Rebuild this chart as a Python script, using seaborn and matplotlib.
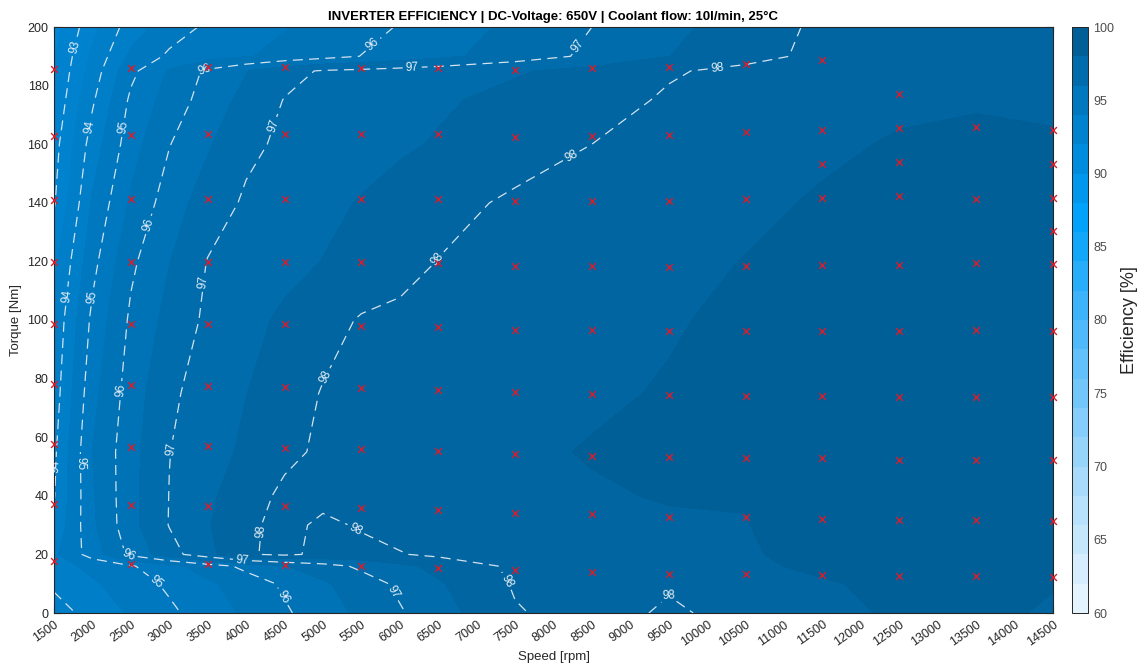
import numpy as np
import matplotlib
matplotlib.use("Agg")
import matplotlib.pyplot as plt
import seaborn as sns
from matplotlib.colors import LinearSegmentedColormap, ListedColormap, Normalize
from matplotlib.cm import ScalarMappable

# ---------------------------------------------------------------------------
# Efficiency map (interpolated grid, %)
# ---------------------------------------------------------------------------
speed_grid = [1500, 2000, 2500, 3000, 3500, 4000, 4500, 5000, 5500, 6000,
              6500, 7500, 8500, 9500, 10500, 11500, 12500, 13500, 14500]
torque_grid = [0, 10, 16, 20, 30, 40, 55, 75, 100, 120, 140, 160, 175, 185, 190, 200]

efficiency = [
    # T = 0
    [93.75, 94.20, 94.55, 94.90, 95.24, 95.58, 95.93, 96.27, 96.60, 96.95, 97.29, 97.96, 98.20, 97.93, 98.15, 98.38, 98.56, 98.60, 98.45],
    # T = 10
    [94.10, 94.43, 94.76, 95.09, 95.41, 95.74, 96.08, 96.42, 96.76, 97.10, 97.44, 98.05, 98.22, 98.05, 98.28, 98.45, 98.62, 98.66, 98.52],
    # T = 16
    [94.30, 94.62, 94.95, 95.33, 95.75, 96.13, 96.46, 96.79, 97.10, 97.37, 97.64, 98.10, 98.25, 98.20, 98.40, 98.60, 98.70, 98.72, 98.65],
    # T = 20
    [94.40, 95.23, 96.13, 96.80, 97.35, 97.95, 98.10, 97.88, 97.85, 97.97, 98.10, 98.20, 98.30, 98.30, 98.45, 98.65, 98.80, 98.80, 98.75],
    # T = 30
    [94.10, 95.40, 96.34, 97.02, 97.46, 97.90, 98.15, 97.90, 98.05, 98.20, 98.30, 98.35, 98.45, 98.40, 98.48, 98.80, 98.90, 98.90, 98.85],
    # T = 40
    [93.97, 95.44, 96.35, 97.01, 97.40, 97.79, 98.10, 98.15, 98.20, 98.25, 98.30, 98.35, 98.42, 98.55, 98.53, 98.80, 98.90, 98.92, 98.90],
    # T = 55
    [93.90, 95.50, 96.33, 96.99, 97.29, 97.59, 97.89, 98.08, 98.15, 98.20, 98.25, 98.35, 98.55, 98.60, 98.75, 98.85, 98.92, 98.95, 98.90],
    # T = 75
    [93.75, 95.34, 96.24, 96.90, 97.23, 97.49, 97.76, 98.03, 98.12, 98.18, 98.22, 98.30, 98.38, 98.56, 98.78, 98.90, 98.95, 98.97, 98.95],
    # T = 100
    [93.60, 95.12, 96.09, 96.66, 97.10, 97.34, 97.59, 97.83, 98.04, 98.10, 98.15, 98.22, 98.32, 98.43, 98.66, 98.85, 98.92, 98.95, 98.95],
    # T = 120
    [93.35, 94.84, 95.90, 96.48, 97.02, 97.17, 97.34, 97.51, 97.67, 97.84, 98.01, 98.12, 98.22, 98.32, 98.52, 98.80, 98.90, 98.92, 98.90],
    # T = 140
    [92.95, 94.55, 95.57, 96.25, 96.74, 97.07, 97.22, 97.38, 97.53, 97.68, 97.84, 98.08, 98.17, 98.26, 98.36, 98.57, 98.82, 98.86, 98.84],
    # T = 160
    [92.80, 94.23, 95.28, 95.98, 96.44, 96.89, 97.09, 97.20, 97.31, 97.43, 97.54, 97.77, 98.00, 98.15, 98.27, 98.38, 98.56, 98.68, 98.60],
    # T = 175
    [92.60, 93.93, 95.10, 95.71, 96.22, 96.65, 97.02, 97.12, 97.22, 97.33, 97.43, 97.64, 97.84, 98.05, 98.20, 98.30, 98.38, 98.42, 98.35],
    # T = 185
    [92.50, 93.72, 94.87, 95.55, 96.10, 96.47, 96.83, 97.05, 97.12, 97.20, 97.28, 97.45, 97.65, 97.96, 98.10, 98.20, 98.28, 98.32, 98.28],
    # T = 190
    [92.45, 93.60, 94.60, 95.09, 95.28, 95.46, 95.64, 95.82, 96.01, 96.19, 96.37, 96.74, 97.10, 97.49, 97.87, 98.10, 98.20, 98.25, 98.22],
    # T = 200
    [92.30, 93.35, 94.26, 94.74, 95.09, 95.28, 95.47, 95.66, 95.84, 96.03, 96.23, 96.61, 97.00, 97.37, 97.74, 98.10, 98.20, 98.25, 98.22],
]

# ---------------------------------------------------------------------------
# Measured operating points (speed in rpm, torque in Nm)
# ---------------------------------------------------------------------------
torque_at_1500 = [185.7, 162.8, 141.0, 119.8, 98.6, 78.2, 57.7, 37.2, 17.7]
torque_at_2500 = [186.0, 163.1, 141.3, 119.8, 98.6, 77.8, 56.7, 36.9, 16.7]
torque_at_3500 = [186.3, 163.5, 141.3, 119.8, 98.6, 77.5, 57.0, 36.5, 16.7]
torque_at_4500 = [186.3, 163.5, 141.3, 119.8, 98.6, 77.1, 56.3, 36.5, 16.4]
torque_at_5500 = [186.0, 163.5, 141.3, 119.8, 98.0, 76.8, 56.0, 35.8, 16.0]
torque_at_6500 = [186.0, 163.5, 141.3, 119.5, 97.6, 76.1, 55.3, 35.2, 15.4]
torque_at_7500 = [185.3, 162.5, 140.6, 118.4, 96.6, 75.4, 54.3, 34.1, 14.7]
torque_at_8500 = [186.0, 162.8, 140.6, 118.4, 96.6, 74.7, 53.6, 33.8, 14.0]
torque_at_9500 = [186.3, 163.1, 140.6, 118.1, 96.2, 74.4, 53.3, 32.8, 13.3]
torque_at_10500 = [187.4, 164.2, 141.3, 118.4, 96.2, 74.1, 52.9, 32.8, 13.3]
torque_at_11500 = [188.7, 164.8, 153.2, 141.6, 118.8, 96.2, 74.1, 52.9, 32.1, 13.0]
torque_at_12500 = [177.1, 165.5, 153.9, 142.3, 118.8, 96.2, 73.7, 52.2, 31.7, 12.6]
torque_at_13500 = [165.9, 141.3, 119.5, 96.6, 73.7, 52.2, 31.7, 12.6]
torque_at_14500 = [164.8, 153.2, 141.6, 130.4, 119.1, 96.2, 73.7, 52.2, 31.4, 12.3]

measured_columns = {
    1500: torque_at_1500, 2500: torque_at_2500, 3500: torque_at_3500,
    4500: torque_at_4500, 5500: torque_at_5500, 6500: torque_at_6500,
    7500: torque_at_7500, 8500: torque_at_8500, 9500: torque_at_9500,
    10500: torque_at_10500, 11500: torque_at_11500, 12500: torque_at_12500,
    13500: torque_at_13500, 14500: torque_at_14500,
}
measured_speed = [s for s, ts in measured_columns.items() for _ in ts]
measured_torque = [t for ts in measured_columns.values() for t in ts]

line_levels = [93, 94, 95, 96, 97, 98]
fill_levels = np.arange(91.5, 100.0, 1.0)

# ---------------------------------------------------------------------------
# Style
# ---------------------------------------------------------------------------
sns.set_theme(style="white")
plt.rcParams["font.family"] = ["Liberation Sans", "DejaVu Sans"]
dark = (0.15, 0.15, 0.15)

fig = plt.figure(figsize=(11.37, 6.67), dpi=100)
W, H = 1137, 667
ax = fig.add_axes([54 / W, 54 / H, 999 / W, 586 / H])
cax = fig.add_axes([1072 / W, 54 / H, 16 / W, 586 / H])

anchors = [(60, "#ebf7ff"), (70, "#a0d7fa"), (80, "#46b6fa"), (87, "#00a2fa"),
           (90, "#0091e6"), (95, "#0079c1"), (100, "#00598c")]
cmap = LinearSegmentedColormap.from_list("eff", [((v - 60) / 40, c) for v, c in anchors])
norm = Normalize(60, 100)

S, T = np.meshgrid(speed_grid, torque_grid)
Z = np.array(efficiency)

cf = ax.contourf(S, T, Z, levels=fill_levels, cmap=cmap, norm=norm)
cf.set_edgecolor("face")
cf.set_linewidth(0.4)

line_col = "#d3e2ef"
cs = ax.contour(S, T, Z, levels=line_levels, colors=line_col, linewidths=0.9)
cs.set_linestyle((0, (8, 5)))

label_spots = [
    (1800, 193),
    (1940, 166), (1710, 108), (1540, 50),
    (2330, 166), (1970, 108), (1810, 51), (2840, 11),
    (3460, 186), (2660, 133), (2320, 76), (2460, 19), (4480, 5.5), (5650, 194),
    (4270, 167), (3400, 113), (3010, 56), (3950, 17.6), (5960, 7.8), (6160, 187), (8340, 193),
    (10130, 186), (8210, 157), (6480, 121), (5010, 81), (4090, 28), (5480, 31), (7340, 10), (9490, 7),
]
ax.clabel(cs, fmt="%d", fontsize=8.5, colors="#e8f0f7", inline=True,
          inline_spacing=3, manual=label_spots)

sns.scatterplot(x=measured_speed, y=measured_torque, ax=ax, marker="x",
                color="#d41f2e", s=24, linewidth=1.0, legend=False, zorder=5,
                clip_on=False)

ax.set_xlim(1500, 14500)
ax.set_ylim(0, 200)
ax.set_xticks(np.arange(1500, 14501, 500))
ax.set_yticks(np.arange(0, 201, 20))
ax.tick_params(direction="in", length=5, width=0.8, top=True, right=True,
               bottom=True, left=True, labelsize=9, colors=dark, pad=4)
plt.setp(ax.get_xticklabels(), rotation=35, ha="right", rotation_mode="anchor")
for sp in ax.spines.values():
    sp.set_color(dark)
    sp.set_linewidth(0.8)

ax.set_title("INVERTER EFFICIENCY | DC-Voltage: 650V | Coolant flow: 10l/min, 25°C",
             fontsize=9.5, fontweight="bold", color="black", pad=5)
ax.set_xlabel("Speed [rpm]", fontsize=9.5, color=dark, labelpad=2)
ax.set_ylabel("Torque [Nm]", fontsize=9.5, color=dark, labelpad=4)

cb_colors = cmap(norm(np.arange(61, 100, 2)))
cb = fig.colorbar(ScalarMappable(norm=norm, cmap=ListedColormap(cb_colors)),
                  cax=cax, ticks=np.arange(60, 101, 5))
cb.ax.tick_params(direction="in", length=3, width=0.7, labelsize=9,
                  colors=(0.3, 0.3, 0.3), pad=4)
cb.outline.set_edgecolor(dark)
cb.outline.set_linewidth(0.7)
cb.set_label("Efficiency [%]", fontsize=13, color=dark, labelpad=5)

fig.savefig("out.png", dpi=100)
